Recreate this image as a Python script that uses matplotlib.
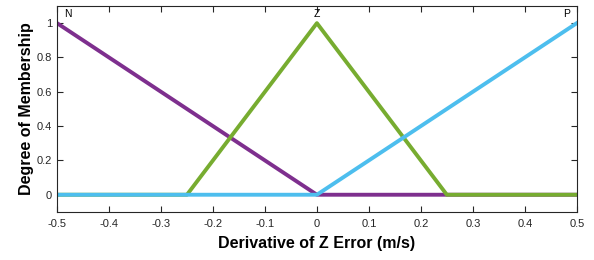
import numpy as np
import matplotlib.pyplot as plt

plt.rcParams['font.family'] = ['Liberation Sans', 'DejaVu Sans']

# membership function breakpoints
n_x = [-0.5, 0.0, 0.5]
n_y = [1, 0, 0]
z_x = [-0.5, -0.25, 0.0, 0.25, 0.5]
z_y = [0, 0, 1, 0, 0]
p_x = [-0.5, 0.0, 0.5]
p_y = [0, 0, 1]

names = ["N", "Z", "P"]
name_x = [-0.48, 0.0, 0.48]

fig = plt.figure(figsize=(5.94, 2.6), dpi=100)
ax = fig.add_axes([0.096, 0.185, 0.875, 0.792])

ax.plot(n_x, n_y, color="#7E2F8E", lw=2.8)
ax.plot(z_x, z_y, color="#77AC30", lw=2.8)
ax.plot(p_x, p_y, color="#4DBEEE", lw=2.8)

for nm, xx in zip(names, name_x):
    ax.text(xx, 1.025, nm, ha="center", va="bottom", fontsize=7.5)

ax.set_xlim(-0.5, 0.5)
ax.set_ylim(-0.1, 1.1)
ax.set_xticks(np.arange(-0.5, 0.51, 0.1))
ax.set_xticklabels(["-0.5", "-0.4", "-0.3", "-0.2", "-0.1", "0",
                    "0.1", "0.2", "0.3", "0.4", "0.5"])
ax.set_yticks([0, 0.2, 0.4, 0.6, 0.8, 1])
ax.set_yticklabels(["0", "0.2", "0.4", "0.6", "0.8", "1"])
ax.tick_params(direction="in", top=True, right=True, labelsize=8,
               colors="#262626", length=4)
ax.tick_params(axis="x", pad=5)
for s in ax.spines.values():
    s.set_color("#262626")
    s.set_linewidth(0.8)

ax.set_xlabel("Derivative of Z Error (m/s)", fontsize=11.5, fontweight="bold", labelpad=5)
ax.set_ylabel("Degree of Membership", fontsize=11.5, fontweight="bold", labelpad=2)

fig.savefig("out.png", dpi=100)
